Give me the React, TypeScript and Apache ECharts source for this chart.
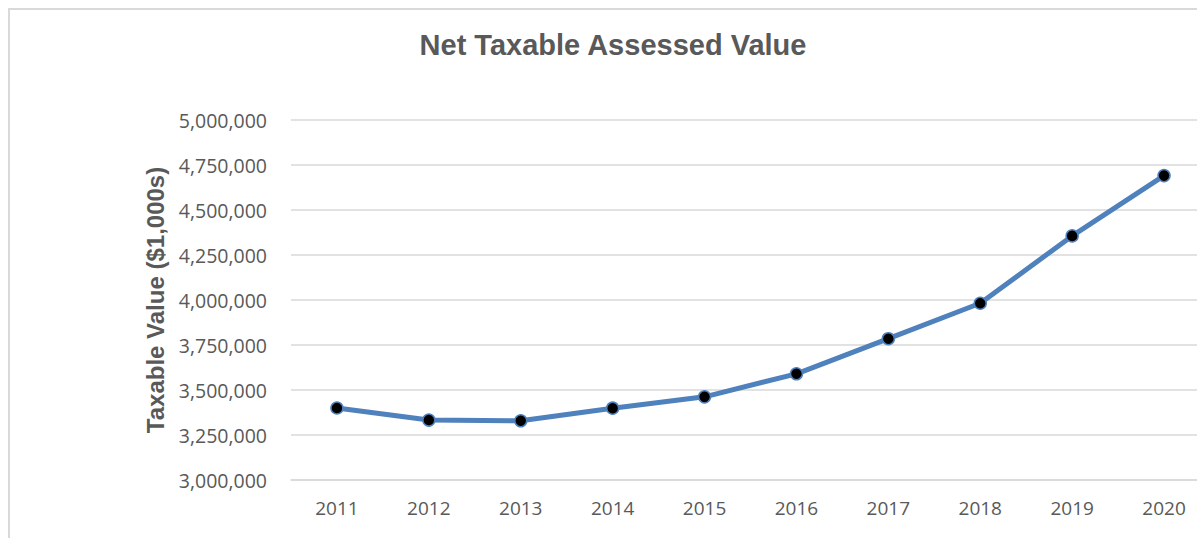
import React, { useEffect, useRef } from "react";
import * as echarts from "echarts";

const years = ["2011", "2012", "2013", "2014", "2015", "2016", "2017", "2018", "2019", "2020"];
const taxableValues = [3400000, 3333000, 3329000, 3399000, 3462000, 3590000, 3785000, 3982000, 4356000, 4691000];
const yMin = 3000000;
const yMax = 5000000;
const yInterval = 250000;
const chartTitle = "Net Taxable Assessed Value";
const yAxisName = "Taxable Value ($1,000s)";

export default function App() {
  const ref = useRef<HTMLDivElement>(null);
  useEffect(() => {
    if (!ref.current) return;
    const chart = echarts.init(ref.current, undefined, { renderer: "svg" });
    chart.setOption({
      animation: false,
      backgroundColor: "#ffffff",
      graphic: [
        {
          type: "rect",
          shape: { x: 9, y: 9, width: 1400, height: 700 },
          style: { fill: "none", stroke: "#d9d9d9", lineWidth: 2 },
          silent: true,
        },
      ],
      title: {
        text: chartTitle,
        left: 608,
        top: 25,
        textAlign: "center",
        textStyle: {
          fontFamily: "Liberation Sans, Arial, sans-serif",
          fontWeight: "bold",
          fontSize: 29,
          color: "#595959",
        },
      },
      grid: { left: 291, width: 919, top: 120, bottom: 58, containLabel: false, outerBoundsMode: "none" },
      xAxis: {
        type: "category",
        data: years,
        boundaryGap: true,
        axisLine: { show: true, lineStyle: { color: "#d9d9d9", width: 1.5 } },
        axisTick: { show: false },
        axisLabel: {
          color: "#595959",
          fontFamily: "Open Sans, sans-serif",
          fontSize: 19,
          margin: 18,
        },
        splitLine: { show: false },
      },
      yAxis: {
        type: "value",
        min: yMin,
        max: yMax,
        interval: yInterval,
        name: yAxisName,
        nameLocation: "middle",
        nameGap: 120,
        nameRotate: 90,
        nameTextStyle: {
          fontFamily: "Liberation Sans, Arial, sans-serif",
          fontWeight: "bold",
          fontSize: 24,
          color: "#595959",
        },
        axisLine: { show: false },
        axisTick: { show: false },
        axisLabel: {
          color: "#595959",
          fontFamily: "Open Sans, sans-serif",
          fontSize: 19.5,
          margin: 24,
          formatter: (v: number) => v.toLocaleString("en-US"),
        },
        splitLine: { show: true, lineStyle: { color: "#d9d9d9", width: 1.5 } },
      },
      series: [
        {
          type: "line",
          data: taxableValues,
          lineStyle: { color: "#4f81bd", width: 5 },
          symbol: "circle",
          symbolSize: 12,
          itemStyle: { color: "#000000", borderColor: "#4f81bd", borderWidth: 1.5 },
        },
      ],
    });
    return () => chart.dispose();
  }, []);
  return (
    <div style={{ position: "fixed", left: 0, top: 0, width: 1197, height: 538, overflow: "hidden" }}>
      <div ref={ref} style={{ width: 1240, height: 538 }} />
    </div>
  );
}
